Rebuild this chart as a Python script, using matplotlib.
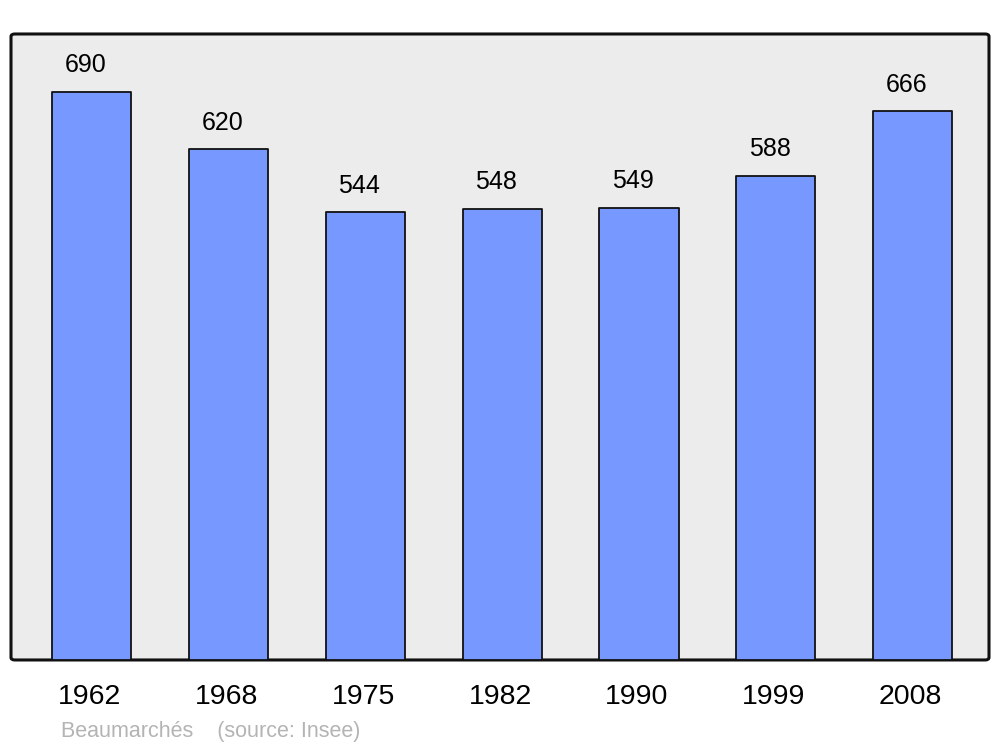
import matplotlib.pyplot as plt
from matplotlib.patches import FancyBboxPatch

years = ["1962", "1968", "1975", "1982", "1990", "1999", "2008"]
population = [690, 620, 544, 548, 549, 588, 666]
source_text = "Beaumarchés    (source: Insee)"

plt.rcParams['font.family'] = ['Liberation Sans', 'DejaVu Sans']

fig = plt.figure(figsize=(10, 7.47), dpi=100)
ax = fig.add_axes([0.011, 0.1165, 0.978, 0.838])
ax.set_facecolor('none')

# rounded frame with grey background
frame = FancyBboxPatch((0, 0), 1, 1, boxstyle="round,pad=0,rounding_size=0.004",
                       transform=ax.transAxes, facecolor='#ececec',
                       edgecolor='#111111', linewidth=2.2, clip_on=False, zorder=0)
ax.add_patch(frame)
for s in ax.spines.values():
    s.set_visible(False)

x = list(range(len(years)))
bars = ax.bar(x, population, width=0.578, color='#7799ff', edgecolor='#111111',
              linewidth=1.3, zorder=2)
for b in bars:
    b.set_joinstyle('round')

for xi, v in zip(x, population):
    ax.annotate(str(v), (xi - 0.045, v), xytext=(0, 19), textcoords='offset points',
                ha='center', va='center', fontsize=18, color='black')

ax.set_xlim(-0.592, 6.559)
ax.set_ylim(0, 760)
ax.set_yticks([])
ax.set_xticks([xi - 0.015 for xi in x])
ax.set_xticklabels(years, fontsize=20.5)
ax.tick_params(axis='x', length=0, pad=17.5)

fig.text(0.061, 1 - 731 / 747, source_text, fontsize=15.5, color='#b4b4b4',
         ha='left', va='center')

fig.savefig("out.png", dpi=100)
